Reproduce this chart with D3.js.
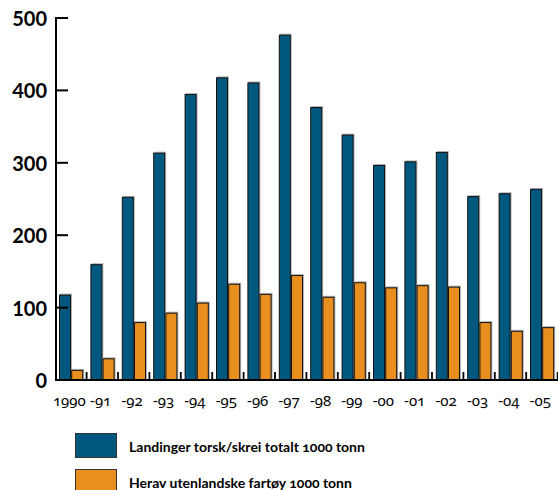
<!DOCTYPE html>
<html>
<head>
<meta charset="utf-8">
<script src="https://cdn.jsdelivr.net/npm/d3@7"></script>
<style>
body { margin: 0; background: #fff; }
svg { display: block; }
.ylab { font-family: Lato, "Open Sans", sans-serif; font-weight: bold; font-size: 20px; }
.xlab { font-family: "Noto Sans", Lato, sans-serif; font-size: 15px; font-variant-numeric: oldstyle-nums; }
.leg { font-family: Lato, "Open Sans", sans-serif; font-weight: bold; font-size: 14px; font-variant-numeric: oldstyle-nums; }
</style>
</head>
<body>
<svg width="558" height="490"></svg>
<script>
var years = ["1990", "-91", "-92", "-93", "-94", "-95", "-96", "-97", "-98", "-99", "-00", "-01", "-02", "-03", "-04", "-05"];
var totalt = [118, 160, 253, 314, 395, 418, 411, 477, 377, 339, 297, 302, 315, 254, 258, 264];
var utenlandske = [14, 30, 80, 93, 107, 133, 119, 145, 115, 135, 128, 131, 129, 80, 68, 73];
var yTicks = [0, 100, 200, 300, 400, 500];
var seriesNames = ["Landinger torsk/skrei totalt 1000 tonn", "Herav utenlandske fartøy 1000 tonn"];
var colors = ["#00587f", "#e88f20"];

var svg = d3.select("svg");

var x = d3.scaleBand().domain(years).range([55.6, 558]);
var y = d3.scaleLinear().domain([0, 500]).range([380, 18]);

var barW = 12;
var offs = [3.4, 15.6];

// bars
[totalt, utenlandske].forEach(function(vals, s) {
	var g = svg.append("g");
	// light shadow edge
	g.selectAll("rect.sh")
		.data(vals)
		.enter().append("rect")
		.attr("x", function(d, i) { return x(years[i]) + offs[s] + 1; })
		.attr("y", function(d) { return y(d) - 1; })
		.attr("width", barW)
		.attr("height", function(d) { return y(0) - y(d) + 1; })
		.attr("fill", "#b5b5b5");
	g.selectAll("rect.bar")
		.data(vals)
		.enter().append("rect")
		.attr("x", function(d, i) { return x(years[i]) + offs[s] + 0.5; })
		.attr("y", function(d) { return y(d) + 0.5; })
		.attr("width", barW - 1)
		.attr("height", function(d) { return y(0) - y(d) - 0.5; })
		.attr("fill", colors[s])
		.attr("stroke", "#111")
		.attr("stroke-width", 1);
});

// x axis line and small separator ticks
svg.append("line")
	.attr("x1", 56).attr("x2", 558)
	.attr("y1", y(0)).attr("y2", y(0))
	.attr("stroke", "#000").attr("stroke-width", 2);

svg.append("g").selectAll("line")
	.data(years)
	.enter().append("line")
	.attr("x1", function(d) { return x(d) + x.bandwidth() - 0.4; })
	.attr("x2", function(d) { return x(d) + x.bandwidth() - 0.4; })
	.attr("y1", y(0) - 8).attr("y2", y(0))
	.attr("stroke", "#000").attr("stroke-width", 1.8);

svg.append("g").selectAll("text")
	.data(years)
	.enter().append("text")
	.attr("class", "xlab")
	.attr("x", function(d) { return x(d) + x.bandwidth() / 2 - 2; })
	.attr("y", 406)
	.attr("text-anchor", "middle")
	.text(function(d) { return d; });

// y axis
svg.append("line")
	.attr("x1", 56).attr("x2", 56)
	.attr("y1", y(500) - 1).attr("y2", y(0) + 1)
	.attr("stroke", "#000").attr("stroke-width", 2);

svg.append("g").selectAll("line")
	.data(yTicks)
	.enter().append("line")
	.attr("x1", 56).attr("x2", 68)
	.attr("y1", function(d) { return y(d); })
	.attr("y2", function(d) { return y(d); })
	.attr("stroke", "#000").attr("stroke-width", 2);

svg.append("g").selectAll("text")
	.data(yTicks)
	.enter().append("text")
	.attr("class", "ylab")
	.attr("x", 47)
	.attr("y", function(d) { return y(d) + 8; })
	.attr("text-anchor", "end")
	.text(function(d) { return d; });

// legend
var leg = svg.append("g").selectAll("g")
	.data(seriesNames)
	.enter().append("g")
	.attr("transform", function(d, i) { return "translate(75," + (433 + i * 36) + ")"; });

leg.append("rect")
	.attr("x", 0.5).attr("y", 0.5)
	.attr("width", 41).attr("height", 24)
	.attr("fill", function(d, i) { return colors[i]; })
	.attr("stroke", "#333").attr("stroke-width", 1);

leg.append("text")
	.attr("class", "leg")
	.attr("x", 54)
	.attr("y", 19)
	.text(function(d) { return d; });
</script>
</body>
</html>
